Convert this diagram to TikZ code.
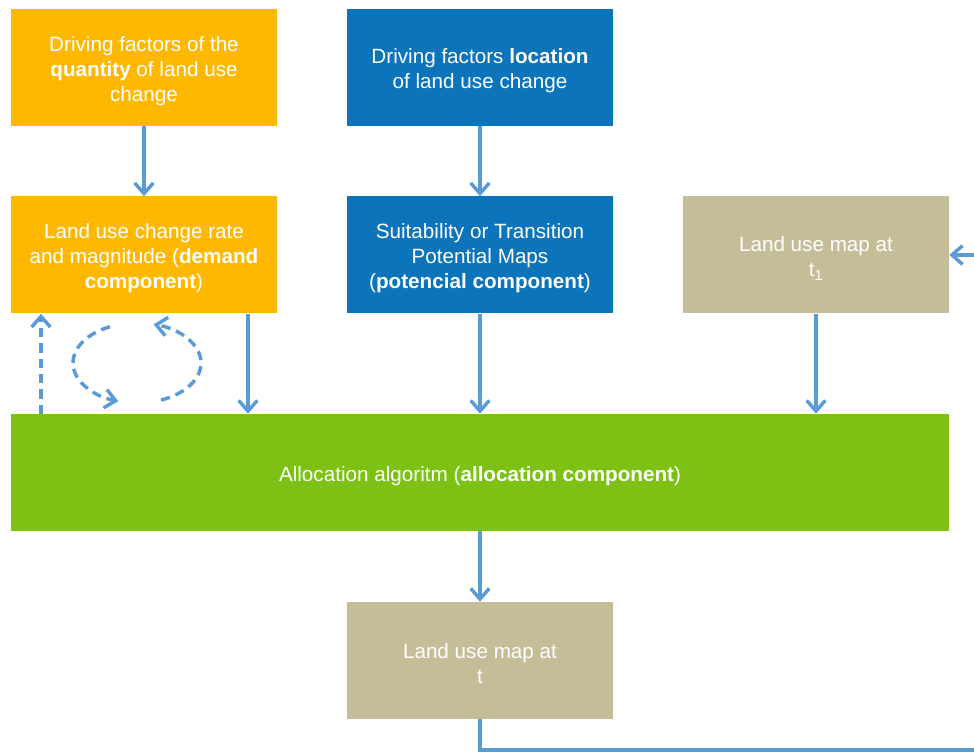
\documentclass[tikz,border=0pt]{standalone}
\usepackage{fontspec}
\setmainfont{Liberation Sans}
\usetikzlibrary{arrows.meta}

\definecolor{qtyorange}{HTML}{FFB800}
\definecolor{locblue}{HTML}{0B74BA}
\definecolor{maptan}{HTML}{C4BD97}
\definecolor{allocgreen}{HTML}{7CC114}
\definecolor{flowblue}{HTML}{5B9BD5}

\newcommand{\lift}{\rule{0pt}{16.5pt}}

\begin{document}
\begin{tikzpicture}[x=0.75pt, y=0.75pt,
    box/.style={rectangle, minimum width=199.5pt, minimum height=87.75pt, inner sep=0pt,
                align=center, text=white, font=\fontsize{15.5}{18.75}\selectfont},
    flow/.style={draw=flowblue, line width=2.6pt, -{Straight Barb[length=8pt,width=14pt]}},
    loopflow/.style={flow, dash pattern=on 7pt off 4.5pt}]
    \useasboundingbox (0,0) rectangle (974,752);
    \clip (0,0) rectangle (974,752);

    \node[box, fill=qtyorange] (qty)  at (144,684.5) {\lift Driving factors of the\\ \textbf{quantity} of land use\\ change};
    \node[box, fill=locblue]   (loc)  at (480,684.5) {\lift Driving factors \textbf{location}\\ of land use change};
    \node[box, fill=qtyorange] (dem)  at (144,497)   {\lift Land use change rate\\ and magnitude (\textbf{demand}\\ \textbf{component})};
    \node[box, fill=locblue]   (pot)  at (480,497)   {\lift Suitability or Transition\\ Potential Maps\\ (\textbf{potencial component})};
    \node[box, fill=maptan]    (map1) at (816,497)   {\lift Land use map at\\ t\textsubscript{1}};
    \node[box, fill=allocgreen, minimum width=703.5pt] (alloc) at (480,279.5)
        {\lift Allocation algoritm (\textbf{allocation component})};
    \node[box, fill=maptan]    (map)  at (480,91.5)  {\lift Land use map at\\ t};

    \coordinate (demout) at (248,438);
    \coordinate (feedin) at (41,338);
    \coordinate (ret)    at (990,2);
    \coordinate (loopc)  at (137,389);

    \def\down {qty/dem, loc/pot, pot/alloc, map1/alloc, alloc/map}  % straight arrows
    \foreach \u\v in \down
    {   \draw[flow] (\u.south) -- (\u.south |- \v.north);
    }
    \draw[flow] (demout) -- (demout |- alloc.north);
    \draw[loopflow] (feedin) -- (feedin |- dem.south);

    % feedback loop
    \draw[loopflow] ([shift={(115:64 and 40)}]loopc) arc[start angle=115, end angle=253, x radius=64, y radius=40];
    \draw[loopflow] ([shift={(-68:64 and 40)}]loopc) arc[start angle=-68, end angle=75, x radius=64, y radius=40];

    \draw[flow] (map.south) |- (ret) |- (map1.east);
\end{tikzpicture}
\end{document}
